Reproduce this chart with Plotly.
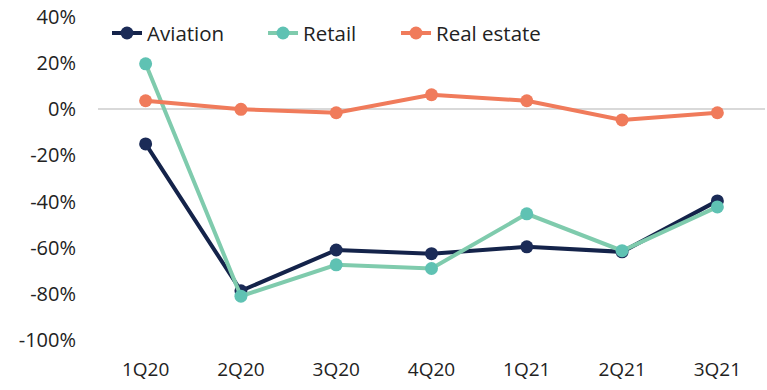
import plotly.graph_objects as go

categories = ["1Q20", "2Q20", "3Q20", "4Q20", "1Q21", "2Q21", "3Q21"]
aviation = [-15.0, -78.7, -61.0, -62.6, -59.6, -61.8, -39.7]
retail = [19.7, -81.0, -67.4, -69.0, -45.3, -61.3, -42.3]
real_estate = [3.7, 0.0, -1.5, 6.3, 3.7, -4.6, -1.5]
y_ticks = [40, 20, 0, -20, -40, -60, -80, -100]

FONT = "Open Sans, Noto Sans, sans-serif"

fig = go.Figure()
series = [
    ("Aviation", aviation, "#14234a", "#1b2b57", "legend", 0.0135),
    ("Retail", retail, "#7fcbad", "#5fc2b3", "legend2", 0.2474),
    ("Real estate", real_estate, "#f07b5b", "#f07b5b", "legend3", 0.4468),
]
legend_cfg = {}
for name, vals, lc, mc, lg, lx in series:
    fig.add_trace(go.Scatter(
        x=categories, y=vals, name=name, mode="lines+markers",
        line=dict(color=lc, width=4),
        marker=dict(color=mc, size=13, line=dict(width=0)),
        legend=lg,
    ))
    legend_cfg[lg] = dict(orientation="h", x=lx, xanchor="left", y=0.95, yanchor="middle",
                          bgcolor="rgba(0,0,0,0)", font=dict(size=20.5, family=FONT, color="#222222"),
                          itemwidth=30)

fig.update_layout(
    width=767, height=390,
    margin=dict(l=98, r=2, t=17, b=50, autoexpand=False),
    paper_bgcolor="white", plot_bgcolor="white",
    font=dict(family=FONT, size=20, color="#222222"),
    showlegend=True,
    **legend_cfg,
)
fig.update_xaxes(
    type="category", range=[-0.5, len(categories) - 0.5],
    showgrid=False, zeroline=False, showline=False,
    ticks="", ticklabelstandoff=16, automargin=False,
    tickfont=dict(size=19, family=FONT, color="#222222"),
)
fig.update_yaxes(
    range=[-100, 40], tickvals=y_ticks, ticktext=[f"{v}%" for v in y_ticks],
    showgrid=False, zeroline=True, zerolinecolor="#d9d9d9", zerolinewidth=2,
    showline=False, ticks="", ticklabelstandoff=21, automargin=False,
    ticklabeloverflow="allow",
    tickfont=dict(size=20, family=FONT, color="#222222"),
)

fig.write_html("out.html", config={"displayModeBar": False},
               post_script="document.body.style.margin='0';")
